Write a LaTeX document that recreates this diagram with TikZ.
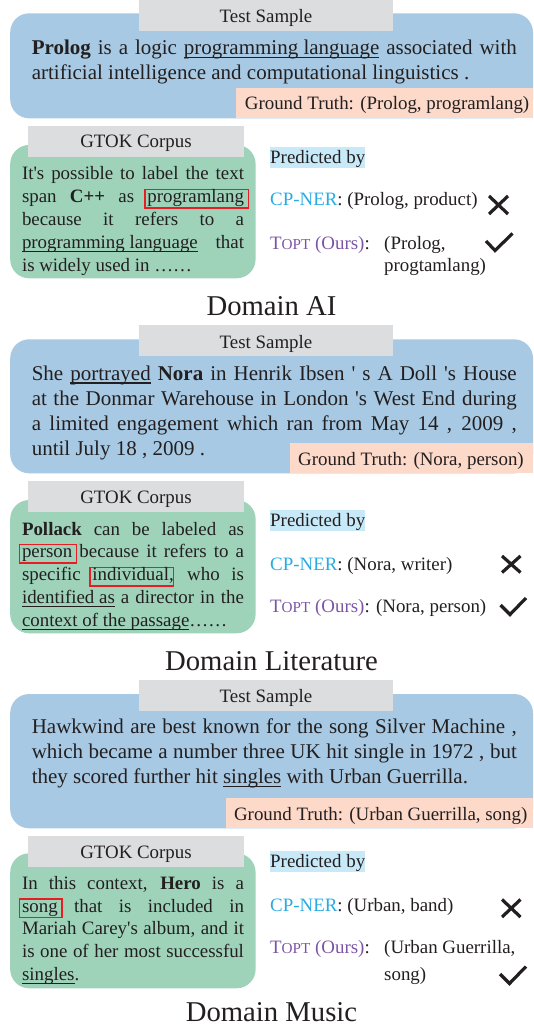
\documentclass[tikz,border=0pt]{standalone}
\usepackage{fontspec}
\setmainfont{Liberation Serif}
\definecolor{textc}{RGB}{35,31,32}
\definecolor{hdrgray}{RGB}{220,221,223}
\definecolor{bluebox}{RGB}{167,201,227}
\definecolor{peach}{RGB}{252,217,201}
\definecolor{greenbox}{RGB}{158,211,186}
\definecolor{predblue}{RGB}{200,234,248}
\definecolor{cpblue}{RGB}{41,171,226}
\definecolor{toptc}{RGB}{125,84,164}
\definecolor{boxred}{RGB}{232,28,36}
\newcommand{\ap}{\XeTeXglyph\XeTeXcharglyph"0027\relax}
\newcommand{\undl}[1]{\leavevmode\setbox0\hbox{#1}\rlap{\rule[-3.6pt]{\wd0}{1.3pt}}\box0\relax}
\newcommand{\rbx}[1]{\leavevmode\rlap{\hspace{-3.3pt}\textcolor{boxred}{\fboxsep=2pt\fboxrule=1.4pt\fbox{\rule[-2.6pt]{0pt}{13.2pt}\hphantom{#1}\hspace{1.5pt}}}}#1}
\newcommand{\toptname}{\textcolor{toptc}{T{\fontsize{15.2}{15}\selectfont OPT} (Ours)}}
\newcommand{\bluetext}[1]{\parbox[t]{485pt}{\fontsize{21}{25.2}\selectfont\hyphenpenalty=10000\relax #1}}
\newcommand{\greentext}[1]{\parbox[t]{222pt}{\fontsize{18.9}{22.8}\selectfont\hyphenpenalty=10000\relax #1}}
\tikzset{
  every node/.style={text=textc, inner sep=0pt, font=\fontsize{18.9}{23}\selectfont},
  hdr/.style={fill=hdrgray},
  bluefill/.style={fill=bluebox, rounded corners=19pt},
  greenfill/.style={fill=greenbox, rounded corners=19pt},
  gtfill/.style={fill=peach},
  predby/.style={fill=predblue, text height=16.6pt, text depth=4.6pt},
  title/.style={font=\fontsize{28.7}{30}\selectfont},
  xmk/.style={line width=3.2pt, draw=textc},
  chk/.style={line width=3.2pt, draw=textc},
}
\begin{document}
\begin{tikzpicture}[x=1pt,y=-1pt]
\useasboundingbox (0,0) rectangle (533,1032);
% ================= Section 1 =================
\fill[bluefill] (10.2,13.3) rectangle (533,118.3);
\fill[hdr] (139,0) rectangle (393,31);
\fill[gtfill] (236,88.3) rectangle (533,118.3);
\node[anchor=base] (ts1) at (266,22.7) {Test Sample};
\node[anchor=base west] (s1) at (31.6,54.3) {\bluetext{\textbf{Prolog} is a logic \undl{programming language} associated with\linebreak artificial intelligence and computational linguistics .}};
\node[anchor=base west] (gt1) at (244.7,110) {Ground Truth: (Prolog, programlang)};
\fill[greenfill] (10.2,145) rectangle (255.6,278.3);
\fill[hdr] (27.9,126) rectangle (244,156.7);
\node[anchor=base] (gk1) at (136,147.7) {GTOK Corpus};
\node[anchor=base west] (c1) at (21.8,180) {\greentext{It\ap s possible to label the text\linebreak span \textbf{C++} as \rbx{programlang}\linebreak because it refers to a\linebreak \undl{programming language} that\linebreak is widely used in ……}};
\node[predby, anchor=base west] (p1) at (270,163.3) {Predicted by};
\node[anchor=base west] (cp1) at (270,205.5) {\textcolor{cpblue}{CP-NER}: (Prolog, product)};
\node[anchor=base west] (tp1) at (270,249) {\toptname:};
\node[anchor=base west] (tpa1) at (384,249) {(Prolog,};
\node[anchor=base west] (tpb1) at (384,271) {progtamlang)};
\draw[xmk] (489,196) -- (508,214) (489,214) -- (508,196);
\draw[chk] (486,241) -- (495,250.5) -- (512.5,233.5);
\node[title, anchor=base] (d1) at (271.5,315) {Domain AI};
% ================= Section 2 =================
\fill[bluefill] (10.2,339.3) rectangle (533,473.3);
\fill[hdr] (139,325) rectangle (393,355.7);
\fill[gtfill] (290,443.3) rectangle (533,473.3);
\node[anchor=base] (ts2) at (266,348.3) {Test Sample};
\node[anchor=base west] (s2) at (31.6,380) {\bluetext{She \undl{portrayed} \textbf{Nora} in Henrik Ibsen \ap\ s A Doll \ap s House\linebreak at the Donmar Warehouse in London \ap s West End during\linebreak a limited engagement which ran from May 14 , 2009 ,\linebreak until July 18 , 2009 .}};
\node[anchor=base west] (gt2) at (298,465) {Ground Truth: (Nora, person)};
\fill[greenfill] (10.2,500) rectangle (255.6,633.3);
\fill[hdr] (27.9,481) rectangle (244,511.7);
\node[anchor=base] (gk2) at (136,503.3) {GTOK Corpus};
\node[anchor=base west] (c2) at (21.8,535) {\greentext{\textbf{Pollack} can be labeled as\linebreak \rbx{person} because it refers to a\linebreak specific \rbx{individual}, who is\linebreak \undl{identified as} a director in the\linebreak \undl{context of the passage}……}};
\node[predby, anchor=base west] (p2) at (270,526.7) {Predicted by};
\node[anchor=base west] (cp2) at (270,570) {\textcolor{cpblue}{CP-NER}: (Nora, writer)};
\node[anchor=base west] (tp2) at (270,612.7) {\toptname: (Nora, person)};
\draw[xmk] (502,556) -- (520.5,572.5) (502,572.5) -- (520.5,556);
\draw[chk] (500.5,605) -- (510,614.5) -- (526,598);
\node[title, anchor=base] (d2) at (271.5,670) {Domain Literature};
% ================= Section 3 =================
\fill[bluefill] (10.2,694) rectangle (533,828.3);
\fill[hdr] (139,680) rectangle (393,711);
\fill[gtfill] (226,798.3) rectangle (533,828.3);
\node[anchor=base] (ts3) at (266,702.7) {Test Sample};
\node[anchor=base west] (s3) at (31.6,733.3) {\bluetext{Hawkwind are best known for the song Silver Machine ,\linebreak which became a number three UK hit single in 1972 , but\linebreak they scored further hit \undl{singles} with Urban Guerrilla.}};
\node[anchor=base west] (gt3) at (233.9,820) {Ground Truth: (Urban Guerrilla, song)};
\fill[greenfill] (10.2,853.3) rectangle (255.6,988.3);
\fill[hdr] (27.9,836) rectangle (244,866.7);
\node[anchor=base] (gk3) at (136,858.3) {GTOK Corpus};
\node[anchor=base west] (c3) at (21.8,889.3) {\greentext{In this context, \textbf{Hero} is a\linebreak \rbx{song} that is included in\linebreak Mariah Carey\ap s album, and it\linebreak is one of her most successful\linebreak \undl{singles}.}};
\node[predby, anchor=base west] (p3) at (270,867.3) {Predicted by};
\node[anchor=base west] (cp3) at (270,911) {\textcolor{cpblue}{CP-NER}: (Urban, band)};
\node[anchor=base west] (tp3) at (270,953.3) {\toptname:};
\node[anchor=base west] (tpa3) at (384,953.3) {(Urban Guerrilla,};
\node[anchor=base west] (tpb3) at (384,980) {song)};
\draw[xmk] (502,899.5) -- (520.5,917) (502,917) -- (520.5,899.5);
\draw[chk] (500,974) -- (509.5,983.5) -- (526,966.5);
\node[title, anchor=base] (d3) at (271.5,1021.7) {Domain Music};
\end{tikzpicture}
\end{document}
